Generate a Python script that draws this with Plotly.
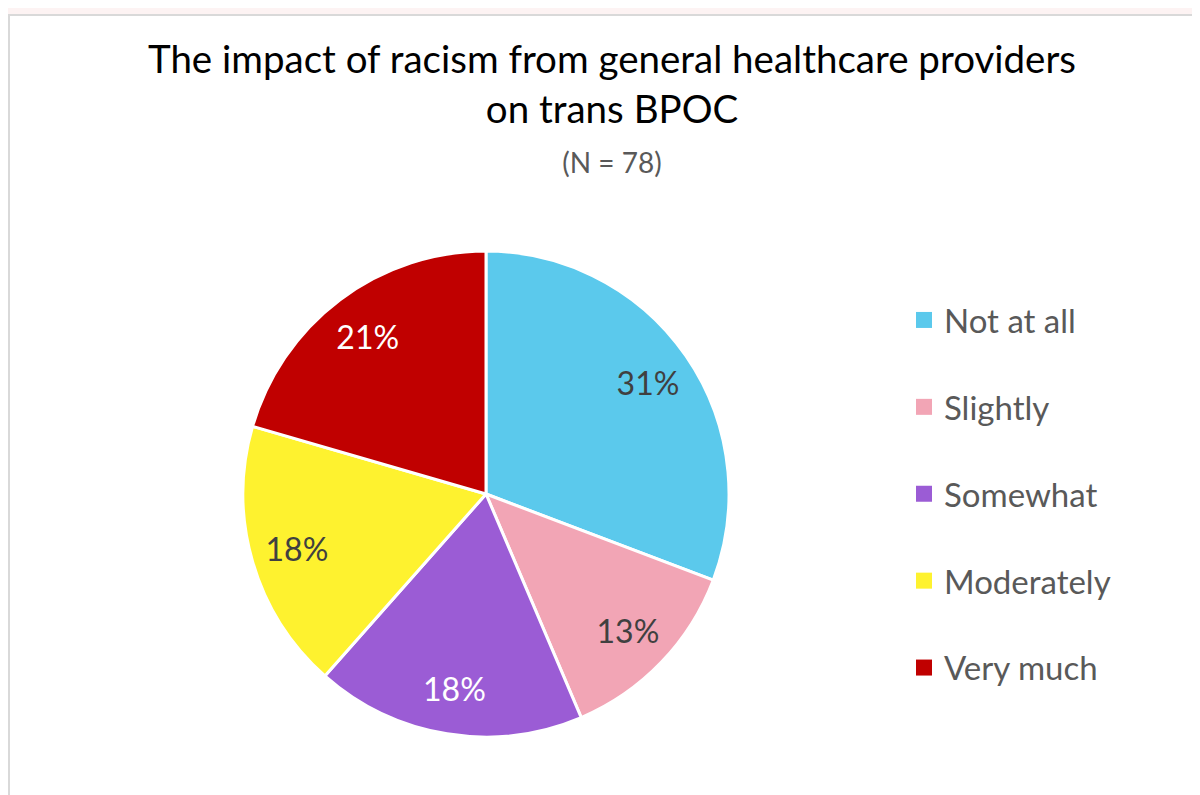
import plotly.graph_objects as go

categories = ["Not at all", "Slightly", "Somewhat", "Moderately", "Very much"]
counts = [24, 10, 14, 14, 16]
colors = ["#5BC9EC", "#F2A5B5", "#9B5CD5", "#FEF22F", "#C00000"]
text_colors = ["#404040", "#404040", "#FFFFFF", "#404040", "#FFFFFF"]

W, H = 1200, 795
FONT = "Lato"
# page offset (browser body margin)
OFF = 8

pie_dom = dict(x=[(243 - OFF) / W, (729 - OFF) / W],
               y=[1 - (737 - OFF) / H, 1 - (251 - OFF) / H])

fig = go.Figure()

# slices
fig.add_trace(go.Pie(
    labels=categories,
    values=counts,
    sort=False,
    direction="clockwise",
    rotation=0,
    marker=dict(colors=colors, line=dict(color="#FFFFFF", width=3)),
    textinfo="none",
    domain=pie_dom,
    showlegend=False,
    hoverinfo="label+percent",
))

# percentage labels, placed by a transparent ring over the same values
fig.add_trace(go.Pie(
    labels=categories,
    values=counts,
    sort=False,
    direction="clockwise",
    rotation=0,
    hole=0.62,
    marker=dict(colors=["rgba(0,0,0,0)"] * len(categories), line=dict(width=0)),
    texttemplate="%{percent:.0%}",
    textposition="inside",
    insidetextorientation="horizontal",
    insidetextfont=dict(family=FONT, size=32, color=text_colors),
    domain=pie_dom,
    showlegend=False,
    hoverinfo="skip",
))

for cat, col in zip(categories, colors):
    fig.add_trace(go.Scatter(
        x=[None], y=[None], mode="markers",
        marker=dict(symbol="square", size=17, color=col),
        name=cat, legendgroup=cat, showlegend=True,
    ))

fig.add_shape(type="rect", xref="paper", yref="paper",
              x0=1 / W, x1=1.05, y0=-0.05, y1=1 - 7 / H,
              fillcolor="#FFFFFF", line=dict(color="#D9D9D9", width=2), layer="below")

fig.update_layout(
    width=W, height=H,
    margin=dict(l=0, r=0, t=0, b=0),
    paper_bgcolor="#FDF3F3",
    plot_bgcolor="rgba(0,0,0,0)",
    xaxis=dict(visible=False),
    yaxis=dict(visible=False),
    title=dict(
        text="The impact of racism from general healthcare providers<br>on trans BPOC<br>"
             "<span style='font-size:28px;color:#595959'>(N = 78)</span>",
        x=604 / W, xanchor="center", y=1 - 65 / H, yanchor="top",
        font=dict(family=FONT, size=38.5, color="#000000"),
    ),
    legend=dict(
        x=896 / W, xanchor="left", y=1 - 284 / H, yanchor="top",
        font=dict(family=FONT, size=33, color="#595959"),
        tracegroupgap=41, bgcolor="rgba(0,0,0,0)",
    ),
)

fig.write_html("out.html")
